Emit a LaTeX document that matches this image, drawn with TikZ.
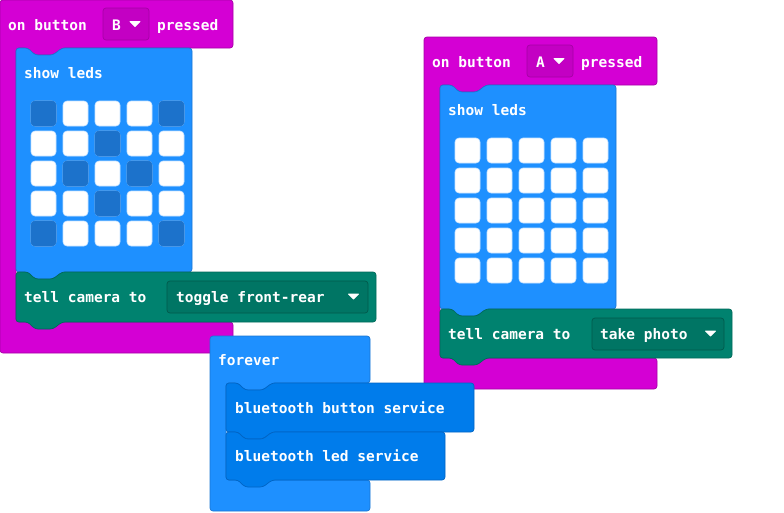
\documentclass[tikz,border=0pt]{standalone}
\usepackage{fontspec}
\newfontfamily\codefont{DejaVu Sans Mono}

\definecolor{inputpink}{HTML}{D400D4}
\definecolor{inputedge}{HTML}{A600A6}
\definecolor{basicblue}{HTML}{1E90FF}
\definecolor{basicedge}{HTML}{1A76D2}
\definecolor{ledoff}{HTML}{1C72CB}
\definecolor{camteal}{HTML}{00826F}
\definecolor{camedge}{HTML}{006A5A}
\definecolor{btblue}{HTML}{007CEB}
\definecolor{btedge}{HTML}{0064C4}

% statement block: left, top, right, bottom (notch on top, tab below)
\newcommand{\stmtpath}[4]{(#1,#2) -- ++(12,0) -- ++(7,7) -- ++(18,0) -- ++(9,-7) -- (#3,#2) -- (#3,#4) -- (#1+46,#4) -- ++(-9,7) -- ++(-18,0) -- ++(-7,-7) -- (#1,#4) -- cycle}

\begin{document}
\begin{tikzpicture}[x=1pt,y=-1pt,
    blk/.style={rounded corners=3pt, line width=0.7pt},
    lbl/.style={text=white, font=\codefont\bfseries\fontsize{14.5}{17}\selectfont, anchor=base west, inner sep=0pt},
    cell/.style={fill=white, draw=basicblue!25, rounded corners=4pt, line width=0.6pt},
    offcell/.style={fill=ledoff, draw=ledoff, rounded corners=4pt, line width=0.7pt},
    arrowtri/.style={fill=white, draw=white, line join=round, line width=0.8pt}]
    \useasboundingbox (0,0) rectangle (784,512);

    % "on button B pressed" block
    \begin{scope}
        \filldraw[blk, fill=inputpink, draw=inputedge] (0,0) -- (233,0) -- (233,48) -- (62,48) -- (53,55) -- (35,55) -- (28,48) -- (16,48) -- (16,322) -- (233,322) -- (233,353) -- (0,353) -- cycle;
        \node[lbl] (hdrB) at (8,30.5) {on button};
        \filldraw[blk, fill=inputpink!92!black, draw=inputedge] (103,8) rectangle (149,40);
        \node[lbl] (keyB) at (112,30.5) {B};
        \filldraw[arrowtri] (130,21.5) -- (140,21.5) -- (135,26.5) -- cycle;
        \node[lbl] (prsB) at (157,30.5) {pressed};
        % show leds
        \filldraw[blk, fill=basicblue, draw=basicedge] \stmtpath{16}{48}{192}{272};
        \node[lbl] (ledsB) at (24,78) {show leds};
        \foreach \r in {0,...,4}
            \foreach \c in {0,...,4}
                \draw[cell] (31+32*\c,101+30*\r) rectangle ++(25,25);
        \foreach \c/\r in {0/0,4/0,2/1,1/2,3/2,2/3,0/4,4/4}
            \filldraw[offcell] (31+32*\c,101+30*\r) rectangle ++(25,25);
        % tell camera
        \filldraw[blk, fill=camteal, draw=camedge] \stmtpath{16}{272}{376}{322};
        \node[lbl] (camB) at (24,302) {tell camera to};
        \filldraw[blk, fill=camteal!90!black, draw=camedge!85!black] (167,281) rectangle (368,313);
        \node[lbl] (optB) at (176,302) {toggle front-rear};
        \filldraw[arrowtri] (348.5,294) -- (358.5,294) -- (353.5,299) -- cycle;
    \end{scope}

    % "on button A pressed" block
    \begin{scope}[shift={(424,37)}]
        \filldraw[blk, fill=inputpink, draw=inputedge] (0,0) -- (233,0) -- (233,48) -- (62,48) -- (53,55) -- (35,55) -- (28,48) -- (16,48) -- (16,321) -- (233,321) -- (233,352) -- (0,352) -- cycle;
        \node[lbl] (hdrA) at (8,30.5) {on button};
        \filldraw[blk, fill=inputpink!92!black, draw=inputedge] (103,8) rectangle (149,40);
        \node[lbl] (keyA) at (112,30.5) {A};
        \filldraw[arrowtri] (130,21.5) -- (140,21.5) -- (135,26.5) -- cycle;
        \node[lbl] (prsA) at (157,30.5) {pressed};
        % show leds
        \filldraw[blk, fill=basicblue, draw=basicedge] \stmtpath{16}{48}{192}{272};
        \node[lbl] (ledsA) at (24,78) {show leds};
        \foreach \r in {0,...,4}
            \foreach \c in {0,...,4}
                \draw[cell] (31+32*\c,101+30*\r) rectangle ++(25,25);
        % tell camera
        \filldraw[blk, fill=camteal, draw=camedge] \stmtpath{16}{272}{308}{321};
        \node[lbl] (camA) at (24,302) {tell camera to};
        \filldraw[blk, fill=camteal!90!black, draw=camedge!85!black] (168,281) rectangle (300,313);
        \node[lbl] (optA) at (176,302) {take photo};
        \filldraw[arrowtri] (281.5,294) -- (291.5,294) -- (286.5,299) -- cycle;
    \end{scope}

    % forever block
    \filldraw[blk, fill=basicblue, draw=basicedge] (210,336) -- (370,336) -- (370,383) -- (272,383) -- (263,390) -- (245,390) -- (238,383) -- (226,383) -- (226,480) -- (370,480) -- (370,511) -- (210,511) -- cycle;
    \node[lbl] (fev) at (218,365) {forever};
    \filldraw[blk, fill=btblue, draw=btedge] \stmtpath{226}{383}{474}{432};
    \node[lbl] (btnsvc) at (235,413) {bluetooth button service};
    \filldraw[blk, fill=btblue, draw=btedge] \stmtpath{226}{432}{445}{480};
    \node[lbl] (ledsvc) at (235,461) {bluetooth led service};
\end{tikzpicture}
\end{document}
